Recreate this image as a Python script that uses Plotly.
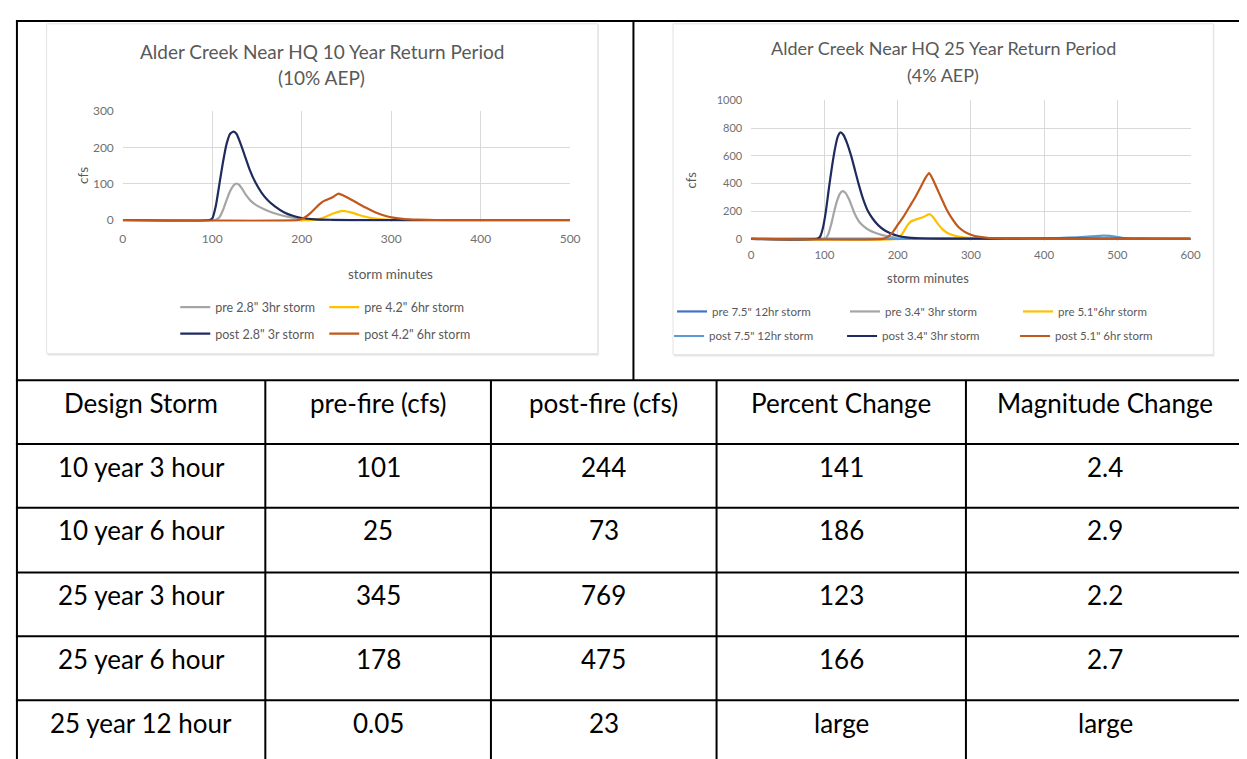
import plotly.graph_objects as go

W, H = 1247, 759

# ---------------- data: 10 year chart ----------------
t10_pre3 = [0, 100, 104, 108, 112, 116, 120, 124, 127, 130, 134, 138, 143, 150, 158, 166, 175, 185, 195, 205, 220, 245, 500]
q10_pre3 = [0, 0, 1, 8, 28, 55, 80, 96, 101, 97, 84, 68, 53, 40, 30, 22, 15, 9, 5, 3, 1, 0, 0]

t10_pre6 = [0, 212, 220, 228, 236, 244, 248, 254, 262, 270, 280, 290, 305, 500]
q10_pre6 = [0, 0, 4, 11, 19, 25, 25, 22, 16, 10, 5, 2, 0, 0]

t10_post3 = [0, 97, 100, 104, 108, 112, 116, 120, 124, 127, 131, 136, 142, 148, 155, 162, 170, 180, 190, 200, 215, 235, 270, 500]
q10_post3 = [0, 0, 5, 40, 100, 160, 210, 238, 244, 238, 215, 180, 138, 105, 76, 55, 38, 22, 12, 6, 2, 1, 0, 0]

t10_post6 = [0, 195, 200, 205, 210, 215, 220, 225, 230, 235, 241, 247, 255, 263, 272, 282, 292, 302, 315, 330, 350, 380, 500]
q10_post6 = [0, 0, 3, 10, 20, 32, 44, 53, 58, 64, 73, 67, 57, 46, 34, 22, 13, 7, 3, 1.5, 0.5, 0, 0]

# ---------------- data: 25 year chart ----------------
t25_pre12 = [0, 600]
q25_pre12 = [0.05, 0.05]

t25_pre3 = [0, 101, 105, 109, 113, 117, 121, 125, 129, 134, 141, 148, 155, 162, 170, 178, 190, 205, 225, 260, 600]
q25_pre3 = [0, 0, 30, 100, 190, 270, 325, 345, 330, 280, 185, 120, 85, 60, 42, 28, 15, 6, 2, 0, 0]

t25_pre6 = [0, 198, 203, 208, 213, 218, 224, 230, 236, 243, 248, 254, 261, 268, 277, 287, 300, 320, 350, 600]
q25_pre6 = [0, 0, 15, 50, 95, 125, 138, 148, 160, 178, 160, 115, 70, 42, 24, 13, 6, 2, 0, 0]

t25_post12 = [0, 360, 390, 420, 445, 465, 480, 490, 500, 510, 525, 545, 600]
q25_post12 = [0, 0, 2, 6, 11, 17, 23, 21, 13, 6, 2, 0, 0]

t25_post3 = [0, 90, 94, 98, 102, 106, 110, 114, 118, 122, 126, 131, 137, 142, 147, 153, 159, 166, 174, 182, 190, 200, 212, 230, 260, 600]
q25_post3 = [0, 0, 15, 80, 200, 360, 510, 640, 735, 769, 750, 690, 590, 490, 390, 285, 205, 145, 95, 62, 40, 22, 10, 4, 1, 0]

t25_post6 = [0, 180, 186, 192, 200, 208, 216, 224, 232, 238, 243, 248, 254, 260, 267, 275, 283, 291, 300, 312, 325, 345, 380, 600]
q25_post6 = [0, 0, 12, 40, 100, 160, 230, 300, 380, 440, 475, 430, 360, 290, 210, 140, 85, 52, 30, 14, 6, 2, 0, 0]

# ---------------- labels ----------------
title10 = ["Alder Creek Near HQ 10 Year Return Period", "(10% AEP)"]
title25 = ["Alder Creek Near HQ 25 Year Return Period", "(4% AEP)"]
names10 = ['pre 2.8" 3hr storm', 'pre 4.2" 6hr storm', 'post 2.8" 3r storm', 'post 4.2" 6hr storm']
names25 = ['pre 7.5" 12hr storm', 'pre 3.4" 3hr storm', 'pre 5.1"6hr storm',
           'post 7.5" 12hr storm', 'post 3.4" 3hr storm', 'post 5.1" 6hr storm']
xticks10 = [0, 100, 200, 300, 400, 500]
yticks10 = [0, 100, 200, 300]
xticks25 = [0, 100, 200, 300, 400, 500, 600]
yticks25 = [0, 200, 400, 600, 800, 1000]

table_header = ["Design Storm", "pre-fire (cfs)", "post-fire (cfs)", "Percent Change", "Magnitude Change"]
design_storm = ["10 year 3 hour", "10 year 6 hour", "25 year 3 hour", "25 year 6 hour", "25 year 12 hour"]
pre_fire = ["101", "25", "345", "178", "0.05"]
post_fire = ["244", "73", "769", "475", "23"]
percent_change = ["141", "186", "123", "166", "large"]
magnitude_change = ["2.4", "2.9", "2.2", "2.7", "large"]

# ---------------- styles ----------------
GRAY = "#A5A5A5"
YELLOW = "#FFC000"
NAVY = "#1F2B5E"
BROWN = "#C0581B"
BLUE = "#4472C4"
LBLUE = "#5B9BD5"
TXT = "#595959"
TICK = "#707070"
GRID = "#D9D9D9"
FONT = "Lato"


def fx(x):
    return x / W


def fy(y):
    return 1 - y / H


fig = go.Figure()

colors10 = [GRAY, YELLOW, NAVY, BROWN]
series10 = [(t10_pre3, q10_pre3), (t10_pre6, q10_pre6), (t10_post3, q10_post3), (t10_post6, q10_post6)]
legends10 = ["legend", "legend", "legend2", "legend2"]
for (t, q), c, n, lg in zip(series10, colors10, names10, legends10):
    fig.add_trace(go.Scatter(x=t, y=q, mode="lines", name=n, legend=lg,
                             line=dict(color=c, width=2.2, shape="spline", smoothing=0.6),
                             xaxis="x", yaxis="y", hoverinfo="skip"))

colors25 = [BLUE, GRAY, YELLOW, LBLUE, NAVY, BROWN]
series25 = [(t25_pre12, q25_pre12), (t25_pre3, q25_pre3), (t25_pre6, q25_pre6),
            (t25_post12, q25_post12), (t25_post3, q25_post3), (t25_post6, q25_post6)]
legends25 = ["legend3", "legend3", "legend3", "legend4", "legend4", "legend4"]
for (t, q), c, n, lg in zip(series25, colors25, names25, legends25):
    fig.add_trace(go.Scatter(x=t, y=q, mode="lines", name=n, legend=lg,
                             line=dict(color=c, width=2.2, shape="spline", smoothing=0.6),
                             xaxis="x2", yaxis="y2", hoverinfo="skip"))

# ---------------- axes placement (pixel based) ----------------
L_x0, L_x1, L_y0, L_y1 = 113, 565, 208, 97
R_x0, R_x1, R_y0, R_y1 = 748, 1192, 227, 86
ylo10 = -4
ylo25 = -14
l_bottom = L_y0 + (-ylo10) * (L_y0 - L_y1) / 300
r_bottom = R_y0 + (-ylo25) * (R_y0 - R_y1) / 1000

axis_common = dict(showgrid=True, gridcolor=GRID, gridwidth=1, zeroline=False, showline=False,
                   ticks="", fixedrange=True)

fig.update_layout(
    xaxis=dict(domain=[fx(L_x0), fx(L_x1)], range=[0, 500], tickvals=xticks10, anchor="y",
               ticklabelstandoff=8, tickfont=dict(family=FONT, size=12, color=TICK), **axis_common),
    yaxis=dict(domain=[fy(l_bottom), fy(L_y1)], range=[ylo10, 300], tickvals=yticks10, anchor="x",
               ticklabelstandoff=8, tickfont=dict(family=FONT, size=12, color=TICK), **axis_common),
    xaxis2=dict(domain=[fx(R_x0), fx(R_x1)], range=[0, 600], tickvals=xticks25, anchor="y2",
                ticklabelstandoff=6, tickfont=dict(family=FONT, size=11.5, color=TICK), **axis_common),
    yaxis2=dict(domain=[fy(r_bottom), fy(R_y1)], range=[ylo25, 1000], tickvals=yticks25, anchor="x2",
                ticklabelstandoff=8, tickfont=dict(family=FONT, size=11, color=TICK), **axis_common),
)

# ---------------- legends ----------------
leg_common = dict(orientation="h", xanchor="left", yanchor="middle", bgcolor="rgba(0,0,0,0)",
                  itemwidth=30, tracegroupgap=0)
LF10 = dict(family=FONT, size=12.5, color=TXT)
LF25 = dict(family=FONT, size=11.5, color=TXT)
fig.update_layout(
    legend=dict(x=fx(166), y=fy(297), entrywidth=104, font=LF10, **leg_common),
    legend2=dict(x=fx(166), y=fy(324), entrywidth=104, font=LF10, **leg_common),
    legend3=dict(x=fx(668), y=fy(301), entrywidth=128, font=LF25, **leg_common),
    legend4=dict(x=fx(665), y=fy(326), entrywidth=128, font=LF25, **leg_common),
)

shapes = []
annotations = []

# chart area boxes with soft shadow
for (x0, y0, x1, y1) in [(36, 8, 593, 344), (669, 8, 1215, 345)]:
    shapes.append(dict(type="rect", xref="paper", yref="paper", x0=fx(x0 + 1), x1=fx(x1 + 1),
                       y0=fy(y1 + 2), y1=fy(y0 + 1), line=dict(width=0), fillcolor="#E6E6E6", layer="below"))
    shapes.append(dict(type="rect", xref="paper", yref="paper", x0=fx(x0), x1=fx(x1),
                       y0=fy(y1), y1=fy(y0), line=dict(color="#E3E3E3", width=1), fillcolor="white",
                       layer="below"))

# chart titles
annotations += [
    dict(text=title10[0], x=fx(314), y=fy(36), xref="paper", yref="paper", showarrow=False,
         font=dict(family=FONT, size=19, color=TXT), xanchor="center", yanchor="middle"),
    dict(text=title10[1], x=fx(314), y=fy(63), xref="paper", yref="paper", showarrow=False,
         font=dict(family=FONT, size=19, color=TXT), xanchor="center", yanchor="middle"),
    dict(text=title25[0], x=fx(942), y=fy(33), xref="paper", yref="paper", showarrow=False,
         font=dict(family=FONT, size=18, color=TXT), xanchor="center", yanchor="middle"),
    dict(text=title25[1], x=fx(942), y=fy(60), xref="paper", yref="paper", showarrow=False,
         font=dict(family=FONT, size=18, color=TXT), xanchor="center", yanchor="middle"),
]
# axis titles
annotations += [
    dict(text="storm minutes", x=fx(339), y=fy(253), xref="paper", yref="paper", showarrow=False,
         font=dict(family=FONT, size=13.5, color=TXT)),
    dict(text="cfs", x=fx(62), y=fy(152), xref="paper", yref="paper", showarrow=False, textangle=-90,
         font=dict(family=FONT, size=13.5, color=TXT)),
    dict(text="storm minutes", x=fx(970), y=fy(267), xref="paper", yref="paper", showarrow=False,
         font=dict(family=FONT, size=13, color=TXT)),
    dict(text="cfs", x=fx(687), y=fy(156), xref="paper", yref="paper", showarrow=False, textangle=-90,
         font=dict(family=FONT, size=13, color=TXT)),
]

# ---------------- table frame ----------------
BL = dict(color="black", width=2)
shapes.append(dict(type="line", xref="paper", yref="paper", x0=fx(5), x1=1.0, y0=fy(5), y1=fy(5), line=BL))
shapes.append(dict(type="line", xref="paper", yref="paper", x0=fx(6), x1=fx(6), y0=fy(5), y1=0, line=BL))
shapes.append(dict(type="line", xref="paper", yref="paper", x0=fx(629), x1=fx(629), y0=fy(5), y1=fy(371), line=BL))

row_tops = [371, 436, 501, 567, 632, 697]
col_edges = [6, 257, 485, 713, 965, 1247]
for yt in row_tops:
    shapes.append(dict(type="line", xref="paper", yref="paper", x0=fx(5), x1=1.0, y0=fy(yt), y1=fy(yt), line=BL))
for xc in col_edges[1:-1]:
    shapes.append(dict(type="line", xref="paper", yref="paper", x0=fx(xc), x1=fx(xc), y0=fy(371), y1=0, line=BL))

columns = [design_storm, pre_fire, post_fire, percent_change, magnitude_change]
col_centers = [(a + b) / 2 for a, b in zip(col_edges[:-1], col_edges[1:])]
TFONT = dict(family=FONT, size=26, color="black")
for ci, h in enumerate(table_header):
    annotations.append(dict(text=h, x=fx(col_centers[ci]), y=fy(row_tops[0] + 23), xref="paper", yref="paper",
                            showarrow=False, font=TFONT, xanchor="center", yanchor="middle"))
for ci, col in enumerate(columns):
    for ri, v in enumerate(col):
        annotations.append(dict(text=v, x=fx(col_centers[ci]), y=fy(row_tops[ri + 1] + 23), xref="paper",
                                yref="paper", showarrow=False, font=TFONT, xanchor="center", yanchor="middle"))

fig.update_layout(
    width=W, height=H, margin=dict(l=0, r=0, t=0, b=0),
    paper_bgcolor="white", plot_bgcolor="white",
    shapes=shapes, annotations=annotations, showlegend=True,
    font=dict(family=FONT, color=TXT),
)

fig.write_html("out.html", config={"displayModeBar": False})
